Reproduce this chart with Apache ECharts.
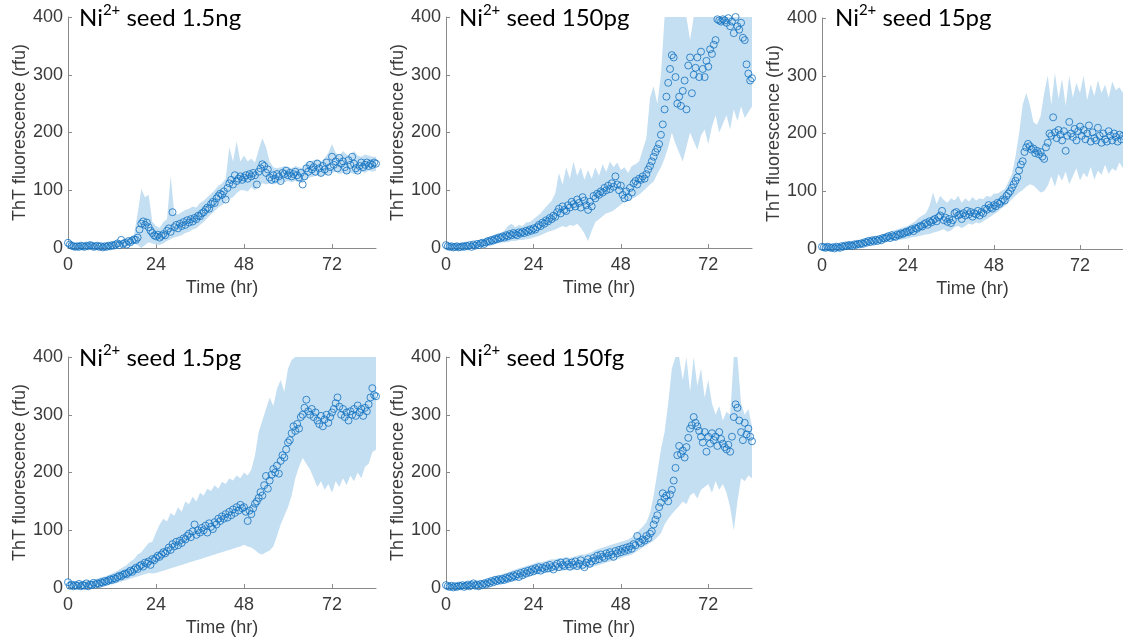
<!DOCTYPE html>
<html><head><meta charset="utf-8">
<style>html,body{margin:0;padding:0;background:#fff}#c{width:1123px;height:638px}</style>
<script src="https://cdn.jsdelivr.net/npm/echarts@6.0.0/dist/echarts.min.js"></script>
</head><body><div id="c"></div>
<script>
// sampling: means every 0.5 hr (0..84), band every 1 hr (0..84)
const meanStep = 0.5;
const bandStep = 1;
const xTicks = [0, 24, 48, 72];
const yTicks = [0, 100, 200, 300, 400];
const seedLabels = ['1.5ng', '150pg', '15pg', '1.5pg', '150fg'];

// ---- Ni2+ seed 1.5ng ----
const mean_1_5ng = [
9,6,4,3,2,3,2,4,3,2,
4,3,5,4,2,3,4,2,3,1,
3,2,4,3,5,4,6,8,5,14,
7,9,6,12,10,13,15,14,18,32,
42,46,40,44,36,30,26,22,20,23,
18,21,24,22,30,34,28,62,36,40,
34,42,38,45,40,48,44,50,46,52,
50,56,55,60,62,66,70,68,76,80,
78,86,90,94,92,98,84,104,112,118,
110,126,116,120,124,118,122,126,120,128,
124,130,126,110,132,138,145,142,130,136,
122,118,126,120,128,124,116,130,128,134,
126,130,124,128,132,126,122,130,110,124,
138,132,144,136,140,132,146,138,130,142,
136,148,132,140,158,144,150,138,156,146,
150,140,134,152,144,158,146,138,134,142,
148,140,144,148,142,146,144,148,146];
const low_1_5ng = [
4,1,0,0,0,0,1,0,0,0,
0,0,1,2,3,3,4,6,8,5,
0,5,10,8,6,5,8,12,15,18,
20,22,26,28,32,34,40,45,52,58,
64,70,74,80,85,88,95,100,100,98,
105,100,108,112,110,112,110,112,112,114,
116,114,116,114,112,120,122,124,126,124,
126,128,130,132,128,130,128,130,128,130,
132,130,134,132,134];
const high_1_5ng = [
14,8,6,6,6,7,8,6,6,5,
6,7,9,11,14,14,16,18,22,60,
102,88,92,45,38,35,45,50,125,60,
58,62,66,68,72,70,78,82,88,94,
100,108,112,120,175,150,185,150,160,150,
155,148,170,190,175,150,140,138,140,142,
140,138,142,140,138,148,150,152,154,150,
156,165,180,165,160,168,162,160,168,160,
158,162,160,158,158];

// ---- Ni2+ seed 150pg ----
const mean_150pg = [
5,3,2,3,1,2,3,1,2,3,
2,4,3,5,2,6,4,7,5,8,
9,7,10,12,11,14,13,16,15,18,
17,20,18,22,20,24,22,26,24,22,
27,25,28,26,30,28,32,30,34,32,
36,40,38,44,42,48,46,52,50,56,
54,62,68,60,72,66,64,74,70,80,
76,72,84,78,70,88,82,74,66,80,
72,90,86,94,92,98,96,104,100,108,
102,112,106,124,110,100,108,92,86,98,
88,104,96,112,116,110,120,118,124,120,
128,136,142,150,158,166,172,180,196,214,
240,262,286,310,334,330,296,250,262,246,
272,290,240,316,330,268,300,312,330,296,
340,310,296,324,314,344,336,352,360,396,
394,392,396,394,390,398,384,392,372,400,
384,378,390,364,360,318,302,290,294];
const low_150pg = [
0,0,0,0,0,0,0,0,0,2,
3,4,5,6,8,9,10,10,12,12,
14,14,15,16,18,20,22,25,28,30,
32,35,38,36,40,38,42,35,25,12,
30,45,50,55,60,62,65,70,75,80,
82,85,88,92,98,104,110,115,128,140,
155,175,200,180,165,150,175,200,185,170,
195,205,180,210,230,200,215,230,205,240,
220,245,225,235,245];
const high_150pg = [
9,6,5,6,6,7,8,9,10,13,
15,17,20,22,25,26,30,38,42,36,
40,38,44,45,50,55,60,68,75,82,
95,130,110,140,120,150,125,140,118,135,
120,140,125,145,132,150,140,148,135,140,
130,142,145,150,170,190,260,280,250,300,
400,400,400,400,400,400,400,360,400,400,
400,400,400,400,400,400,400,400,400,400,
400,400,400,400,400];

// ---- Ni2+ seed 15pg ----
const mean_15pg = [
4,3,2,4,3,2,3,1,4,3,
2,5,4,6,5,7,6,5,8,7,
9,8,10,9,12,11,14,12,15,13,
16,14,17,15,19,18,20,22,19,24,
22,21,25,24,27,26,28,30,29,32,
34,31,36,35,38,40,39,43,45,42,
48,46,50,52,48,55,58,66,50,54,
47,52,45,50,62,64,58,60,52,62,
58,66,60,64,56,62,60,66,58,64,
62,70,68,76,72,70,76,74,80,78,
82,86,84,92,96,100,106,112,118,124,
136,146,152,168,176,182,178,172,174,166,
170,164,168,160,156,176,184,200,196,228,
202,192,206,198,188,204,170,196,220,200,
194,208,188,204,212,196,206,190,200,214,
186,202,192,188,210,196,184,200,190,186,
204,196,188,200,194,186,198,190,196];
const low_15pg = [
0,0,0,0,0,0,0,1,2,3,
4,5,6,7,8,9,10,11,12,13,
14,15,16,17,18,20,21,22,24,25,
26,28,30,32,34,30,32,38,40,36,
40,44,42,46,44,48,52,56,60,64,
70,74,80,86,92,98,102,108,112,110,
104,98,100,110,126,108,130,118,134,112,
126,140,118,132,124,142,120,136,128,146,
130,140,135,150,140];
const high_15pg = [
8,6,6,6,7,8,9,11,12,14,
15,16,18,20,22,22,24,26,28,30,
32,34,36,38,40,44,48,54,58,62,
75,98,78,92,85,80,88,84,92,80,
88,82,90,84,88,86,92,90,96,96,
100,104,116,130,160,200,250,270,250,220,
215,230,270,300,250,305,260,295,248,300,
262,288,270,300,258,285,265,292,270,285,
262,290,275,280,270];

// ---- Ni2+ seed 1.5pg ----
const mean_1_5pg = [
10,4,6,3,5,4,7,3,5,4,
8,3,6,5,9,6,8,7,10,9,
12,11,13,15,14,17,16,19,21,20,
23,25,24,27,30,28,32,35,33,38,
40,37,44,42,46,40,50,48,52,56,
54,58,62,60,64,70,66,76,72,80,
74,82,78,86,84,90,94,88,98,110,
92,100,96,104,100,108,96,112,106,102,
114,110,120,116,124,120,128,122,132,126,
136,130,140,134,144,138,140,132,116,134,
128,138,146,150,156,166,160,178,194,172,
186,196,206,200,212,198,220,230,226,240,
252,256,268,280,272,284,276,296,300,312,
326,306,300,310,296,304,290,284,298,280,
292,300,286,296,304,310,320,330,314,300,
310,296,304,290,306,300,310,298,316,304,
310,298,312,306,318,330,346,334,332];
const low_1_5pg = [
2,0,0,0,0,0,0,1,2,3,
4,5,6,8,10,12,14,16,18,20,
22,24,26,25,26,28,30,32,34,36,
38,40,42,44,46,48,50,52,54,56,
58,60,62,64,66,68,70,72,75,72,
70,66,60,58,62,65,72,90,110,125,
140,160,190,210,225,215,205,190,175,185,
170,180,165,185,175,190,178,195,185,200,
190,210,215,235,240];
const high_1_5pg = [
16,10,10,11,12,13,12,14,16,18,
20,22,25,28,32,36,40,46,50,58,
62,70,78,80,96,110,120,115,130,125,
140,132,150,145,158,150,165,160,172,168,
178,172,184,180,190,186,195,190,200,195,
205,230,270,290,310,330,315,345,360,340,
380,395,400,400,400,400,400,400,400,400,
400,400,400,400,400,400,400,400,400,400,
400,400,400,400,400];

// ---- Ni2+ seed 150fg ----
const mean_150fg = [
5,3,2,4,1,3,2,4,3,5,
2,4,6,3,5,8,4,6,3,7,
5,8,6,10,8,12,10,14,12,15,
13,16,14,18,16,20,18,22,20,24,
19,26,22,28,25,30,27,32,29,34,
31,36,30,35,33,38,34,40,36,32,
38,42,36,44,40,38,45,41,37,44,
40,46,38,42,48,40,36,44,50,42,
46,52,48,56,50,58,54,52,60,56,
62,58,54,64,60,66,62,68,64,70,
66,72,68,76,74,90,80,78,84,82,
90,86,94,98,110,118,126,140,148,164,
156,160,150,162,170,186,208,230,246,232,
238,226,244,260,276,282,296,286,280,272,
262,252,270,236,262,250,268,256,262,246,
270,258,250,244,240,248,236,262,296,318,
312,290,270,256,286,266,276,262,254];
const low_150fg = [
0,0,0,0,0,0,0,0,0,0,
1,2,4,5,6,7,8,10,11,12,
14,16,18,20,22,24,25,26,27,28,
29,30,30,31,30,31,32,32,33,34,
36,38,40,42,44,46,48,50,52,54,
56,58,62,66,70,74,78,82,88,95,
110,120,128,135,142,150,145,160,165,155,
170,175,180,165,185,170,180,165,140,100,
150,190,185,195,190];
const high_150fg = [
10,7,6,8,9,10,11,12,12,12,
14,16,18,20,22,23,25,27,30,32,
34,36,38,40,42,44,45,46,48,50,
50,52,52,54,52,54,56,58,58,60,
62,66,68,70,72,74,76,78,80,82,
84,88,94,100,106,114,130,160,200,240,
270,320,380,400,400,360,400,340,400,350,
380,330,360,320,300,315,290,305,300,400,
400,320,300,310,280];

const panelData = [
  [mean_1_5ng, low_1_5ng, high_1_5ng],
  [mean_150pg, low_150pg, high_150pg],
  [mean_15pg, low_15pg, high_15pg],
  [mean_1_5pg, low_1_5pg, high_1_5pg],
  [mean_150fg, low_150fg, high_150fg]
];

// layout (pixels)
const layout = [
  {left: 68,  top: 17,  width: 308, height: 231, tx: 79,  ty: 3},
  {left: 446, top: 17,  width: 306, height: 231, tx: 459, ty: 3},
  {left: 822, top: 18,  width: 308, height: 231, tx: 835, ty: 3},
  {left: 68,  top: 357, width: 308, height: 231, tx: 79,  ty: 343},
  {left: 446, top: 357, width: 306, height: 231, tx: 459, ty: 343}
];

const AX = '#8a8a8a', TXT = '#3a3a3a', BLUE = '#1272c0', BAND = '#c5dff2';
const sansFont = '"Liberation Sans", Arial, sans-serif';

const grids = [], xAxes = [], yAxes = [], series = [], titles = [];
panelData.forEach(([m, lo, hi], i) => {
  const L = layout[i];
  grids.push({left: L.left, top: L.top, width: L.width, height: L.height});
  titles.push({
    text: '{n|Ni}{s|2+}{n| seed ' + seedLabels[i] + '}',
    left: L.tx, top: L.ty, padding: 0,
    textStyle: {
      fontWeight: 'normal',
      rich: {
        n: {fontFamily: 'Lato', fontSize: 24, fontWeight: 'normal', color: '#000', lineHeight: 30},
        s: {fontFamily: 'Lato', fontSize: 15, fontWeight: 'normal', color: '#000', verticalAlign: 'top', lineHeight: 20}
      }
    }
  });
  xAxes.push({
    type: 'value', gridIndex: i, min: 0, max: 84,
    name: 'Time (hr)', nameLocation: 'middle', nameGap: 31,
    nameTextStyle: {fontFamily: sansFont, fontSize: 18, color: TXT},
    axisLine: {show: true, lineStyle: {color: AX, width: 1}},
    axisTick: {show: true, inside: true, length: 4, lineStyle: {color: AX}, customValues: xTicks},
    axisLabel: {fontFamily: sansFont, fontSize: 18, color: TXT, margin: 8, customValues: xTicks},
    splitLine: {show: false}
  });
  yAxes.push({
    type: 'value', gridIndex: i, min: 0, max: 400, interval: 100,
    name: 'ThT fluorescence (rfu)', nameLocation: 'middle', nameGap: 37, nameRotate: 90,
    nameTextStyle: {fontFamily: sansFont, fontSize: 18, color: TXT},
    axisLine: {show: true, lineStyle: {color: AX, width: 1}},
    axisTick: {show: true, inside: true, length: 4, lineStyle: {color: AX}, customValues: yTicks},
    axisLabel: {fontFamily: sansFont, fontSize: 18, color: TXT, margin: 5, customValues: yTicks},
    splitLine: {show: false}
  });
  // shaded band: polygon through upper edge then lower edge, via the axes' scales
  series.push({
    type: 'custom', xAxisIndex: i, yAxisIndex: i, coordinateSystem: 'cartesian2d',
    data: lo.map((v, k) => [k * bandStep, v, hi[k]]),
    encode: {x: 0, y: [1, 2]},
    silent: true, z: 1,
    renderItem: (params, api) => {
      if (params.dataIndex !== 0) return null;
      const upper = hi.map((v, k) => api.coord([k * bandStep, v]));
      const lower = lo.map((v, k) => api.coord([k * bandStep, v])).reverse();
      return {type: 'polygon', shape: {points: upper.concat(lower)}, style: {fill: BAND}};
    }
  });
  series.push({
    type: 'scatter', xAxisIndex: i, yAxisIndex: i,
    data: m.map((v, k) => [k * meanStep, v]),
    symbol: 'circle', symbolSize: 7,
    itemStyle: {color: 'rgba(0,0,0,0)', borderColor: BLUE, borderWidth: 0.9, opacity: 0.9},
    silent: true, z: 3
  });
});

const chart = echarts.init(document.getElementById('c'), null, {renderer: 'canvas'});
chart.setOption({
  animation: false,
  backgroundColor: '#fff',
  title: titles,
  grid: grids,
  xAxis: xAxes,
  yAxis: yAxes,
  series: series
});
</script></body></html>
